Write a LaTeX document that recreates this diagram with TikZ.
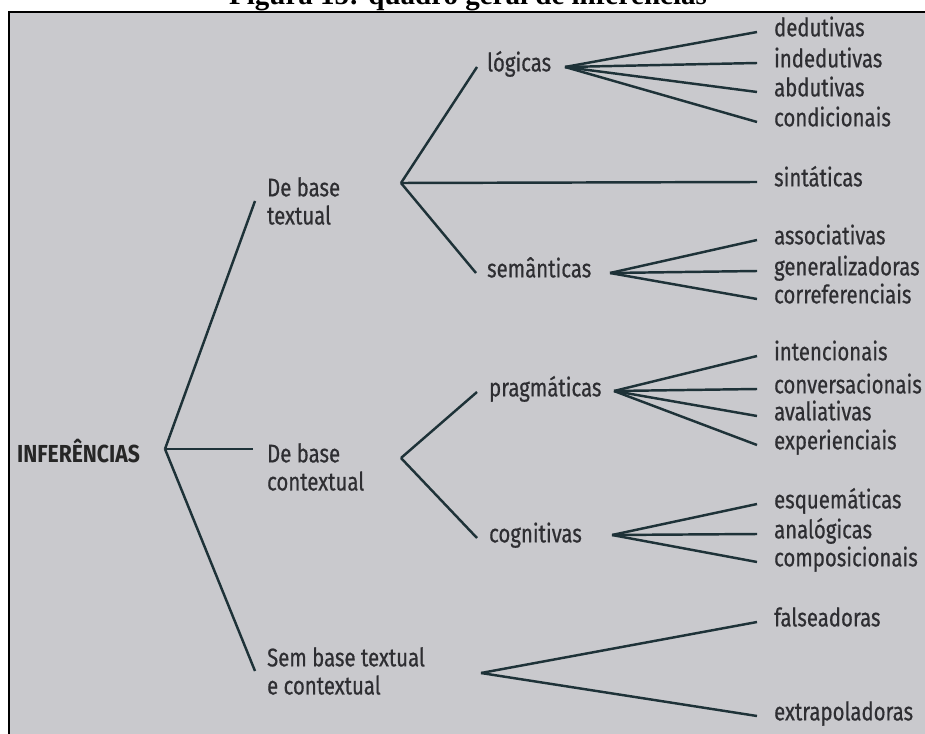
\documentclass[tikz,border=0pt]{standalone}
\usepackage{fontspec}
\usetikzlibrary{positioning}

\newfontfamily\diagfont[FakeStretch=0.8, FakeBold=0.6]{Fira Sans}
\newfontfamily\rootfont[FakeStretch=0.86]{Fira Sans}
\newfontfamily\titlefont{Liberation Serif}
\definecolor{paper}{RGB}{201,201,205}
\definecolor{ink}{RGB}{46,46,50}
\definecolor{stroke}{RGB}{30,50,56}

\begin{document}
\begin{tikzpicture}[
    x=0.02cm, y=-0.02cm,
    txt/.style={font=\diagfont\fontsize{14.5}{16}\selectfont, text=ink, anchor=west, inner sep=1pt, align=left},
    leaf/.style={txt, text height=0.7em, text depth=0.2em},
    rootbox/.style={txt, font=\rootfont\bfseries\fontsize{14}{16}\selectfont, text=black!85},
    branch/.style={draw=stroke, line width=1.4pt}
]

\useasboundingbox (0,0) rectangle (925,733);
\clip (0,0) rectangle (925,733);

% Title and frame
\node[font=\titlefont\bfseries\fontsize{16.5}{18}\selectfont, anchor=base] (title) at (468,5) {Figura 15: quadro geral de inferências};
\draw[line width=1.7pt, fill=paper] (9,12) rectangle (945,750);

% Root
\node[rootbox] (inf) at (15,451) {INFERÊNCIAS};
\coordinate (infF) at (165,449);

% First level
\node[txt] (dbt) at (265,201) {De base\\textual};
\node[txt] (dbc) at (265,467) {De base\\contextual};
\node[txt] (sbt) at (265,671) {Sem base textual\\e contextual};

\draw[branch] (infF) -- ([xshift=-2mm]dbt.west);
\draw[branch] (infF) -- ([xshift=-2.4mm]infF -| dbc.west);
\draw[branch] (infF) -- ([xshift=-2mm]sbt.west);

% Second level
\coordinate (dbtF) at (401,183);
\coordinate (dbcF) at (401,458);
\coordinate (sbtF) at (481,673);

\node[leaf] (log) at (485,67) {lógicas};
\node[leaf] (sem) at (485,273) {semânticas};
\node[leaf] (prag) at (487,392) {pragmáticas};
\node[leaf] (cog) at (487,538) {cognitivas};

\draw[branch] (dbtF) -- ([xshift=-1.6mm]log.west);
\draw[branch] (dbtF) -- ([xshift=-1.8mm]sem.west);
\draw[branch] (dbcF) -- ([xshift=-2mm]prag.west);
\draw[branch] (dbcF) -- ([xshift=-2mm]cog.west);

% Leaves - logicas
\coordinate (logF) at (565,67);
\node[leaf] (ded) at (772,32) {dedutivas};
\node[leaf] (inded) at (772,63) {indedutivas};
\node[leaf] (abd) at (772,92) {abdutivas};
\node[leaf] (cond) at (772,122) {condicionais};
\draw[branch] (logF) -- ([xshift=-3mm]ded.west);
\draw[branch] (logF) -- ([xshift=-3mm]inded.west);
\draw[branch] (logF) -- ([xshift=-3mm]abd.west);
\draw[branch] (logF) -- ([xshift=-3mm]cond.west);

% Leaf - sintaticas
\node[leaf] (sint) at (772,182) {sintáticas};
\draw[branch] (dbtF) -- ([xshift=-3mm]sint.west);

% Leaves - semanticas
\coordinate (semF) at (610,273);
\node[leaf] (assoc) at (772,240) {associativas};
\node[leaf] (gen) at (772,271) {generalizadoras};
\node[leaf] (corref) at (772,299) {correferenciais};
\draw[branch] (semF) -- ([xshift=-3mm]assoc.west);
\draw[branch] (semF) -- ([xshift=-3mm]gen.west);
\draw[branch] (semF) -- ([xshift=-3mm]corref.west);

% Leaves - pragmaticas
\coordinate (pragF) at (614,391);
\node[leaf] (inten) at (772,356) {intencionais};
\node[leaf] (conv) at (772,389) {conversacionais};
\node[leaf] (aval) at (772,416) {avaliativas};
\node[leaf] (exper) at (772,445) {experienciais};
\draw[branch] (pragF) -- ([xshift=-3mm]inten.west);
\draw[branch] (pragF) -- ([xshift=-3mm]conv.west);
\draw[branch] (pragF) -- ([xshift=-3mm]aval.west);
\draw[branch] (pragF) -- ([xshift=-3mm]exper.west);

% Leaves - cognitivas
\coordinate (cogF) at (612,535);
\node[leaf] (esq) at (772,504) {esquemáticas};
\node[leaf] (anal) at (772,534) {analógicas};
\node[leaf] (comp) at (772,562) {composicionais};
\draw[branch] (cogF) -- ([xshift=-3mm]esq.west);
\draw[branch] (cogF) -- ([xshift=-3mm]anal.west);
\draw[branch] (cogF) -- ([xshift=-3mm]comp.west);

% Leaves - sem base
\node[leaf] (fals) at (772,622) {falseadoras};
\node[leaf] (extra) at (772,716) {extrapoladoras};
\draw[branch] (sbtF) -- ([xshift=-3mm]fals.west);
\draw[branch] (sbtF) -- ([xshift=-3mm]extra.west);

\end{tikzpicture}
\end{document}
